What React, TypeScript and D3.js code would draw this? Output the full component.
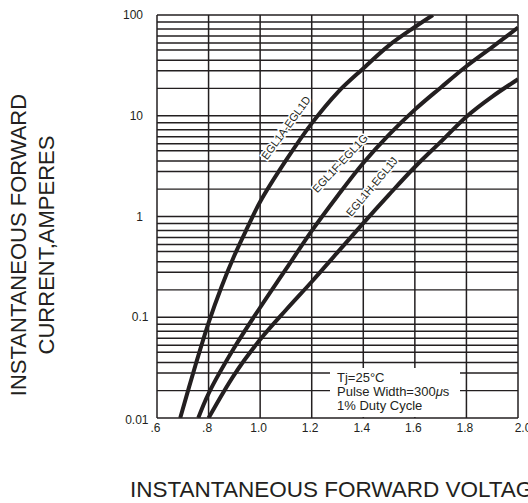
import { useMemo } from "react";
import * as d3 from "d3";

const WIDTH = 528;
const HEIGHT = 503;
const PLOT = { left: 157, right: 518, top: 15, bottom: 418 };
const INK = "#231f20";
const FONT = "'Liberation Sans', Arial, sans-serif";

// x axis (forward voltage)
const X_TICKS = [0.6, 0.8, 1.0, 1.2, 1.4, 1.6, 1.8, 2.0];
const X_LABELS = [".6", ".8", "1.0", "1.2", "1.4", "1.6", "1.8", "2.0"];

// y axis (log current): decades + the minor lines drawn inside every decade
const Y_DECADES = [0.01, 0.1, 1, 10, 100];
const Y_LABELS = ["0.01", "0.1", "1", "10", "100"];
const MINOR_STEPS = [1.87, 2.8, 3.55, 4.5, 5.27, 6.19, 7.26, 8.52];

// EGL1A-EGL1D
const VOLTS_AD = [0.69, 0.75, 0.8, 0.85, 0.9, 0.95, 1.0, 1.1, 1.2, 1.3, 1.4, 1.5, 1.6, 1.67];
const AMPS_AD = [0.01, 0.034, 0.088, 0.2, 0.41, 0.77, 1.4, 3.6, 8.4, 17, 29.5, 50, 76, 100];

// EGL1F-EGL1G
const VOLTS_FG = [0.76, 0.8, 0.9, 1.0, 1.1, 1.2, 1.3, 1.4, 1.5, 1.6, 1.7, 1.8, 1.9, 2.0];
const AMPS_FG = [0.01, 0.0175, 0.05, 0.125, 0.3, 0.72, 1.6, 3.4, 6.5, 11.5, 19, 31, 48, 75];

// EGL1H-EGL1J
const VOLTS_HJ = [0.8, 0.9, 1.0, 1.1, 1.2, 1.3, 1.4, 1.5, 1.6, 1.7, 1.8, 1.9, 2.0];
const AMPS_HJ = [0.01, 0.027, 0.06, 0.118, 0.225, 0.44, 0.86, 1.65, 3.1, 5.5, 9.8, 15.5, 23];

const SERIES = [
  { name: "EGL1A-EGL1D", volts: VOLTS_AD, amps: AMPS_AD },
  { name: "EGL1F-EGL1G", volts: VOLTS_FG, amps: AMPS_FG },
  { name: "EGL1H-EGL1J", volts: VOLTS_HJ, amps: AMPS_HJ },
];

// where each curve name sits, in chart units, and its slant
const CURVE_LABELS = [
  { text: "EGL1A-EGL1D", volt: 1.1, amp: 7.6, angle: -54 },
  { text: "EGL1F-EGL1G", volt: 1.31, amp: 3.37, angle: -47 },
  { text: "EGL1H-EGL1J", volt: 1.433, amp: 1.98, angle: -50 },
];

const NOTE_LINES = ["Tj=25°C", "Pulse Width=300μs", "1% Duty Cycle"];

type Pt = { v: number; i: number };

export default function App() {
  const xScale = useMemo(
    () => d3.scaleLinear().domain([0.6, 2.0]).range([PLOT.left, PLOT.right]),
    []
  );
  const yScale = useMemo(
    () => d3.scaleLog().domain([0.01, 100]).range([PLOT.bottom, PLOT.top]),
    []
  );

  const line = d3
    .line<Pt>()
    .x((d) => xScale(d.v))
    .y((d) => yScale(d.i))
    .curve(d3.curveCatmullRom);

  const minorLines = Y_DECADES.slice(0, -1).flatMap((dec) =>
    MINOR_STEPS.map((m) => dec * m)
  );

  return (
    <svg
      width={WIDTH}
      height={HEIGHT}
      style={{ position: "absolute", left: 0, top: 0, background: "#fff" }}
      fontFamily={FONT}
    >
      <defs>
        <clipPath id="plot-clip">
          <rect
            x={PLOT.left}
            y={PLOT.top}
            width={PLOT.right - PLOT.left}
            height={PLOT.bottom - PLOT.top}
          />
        </clipPath>
      </defs>

      {/* grid */}
      {minorLines.map((val, k) => (
        <line
          key={"m" + k}
          x1={PLOT.left}
          x2={PLOT.right}
          y1={yScale(val)}
          y2={yScale(val)}
          stroke={INK}
          strokeWidth={1.4}
        />
      ))}
      {Y_DECADES.map((val, k) => (
        <line
          key={"d" + k}
          x1={PLOT.left}
          x2={PLOT.right}
          y1={yScale(val)}
          y2={yScale(val)}
          stroke={INK}
          strokeWidth={1.5}
        />
      ))}
      {X_TICKS.map((val, k) => (
        <line
          key={"x" + k}
          x1={xScale(val)}
          x2={xScale(val)}
          y1={PLOT.top}
          y2={PLOT.bottom}
          stroke={INK}
          strokeWidth={1.5}
        />
      ))}

      {/* test conditions box */}
      <rect x={330} y={368} width={130} height={PLOT.bottom - 368 - 1} fill="#fff" />
      {NOTE_LINES.map((t, k) => {
        const parts = t.split("μ");
        return (
          <text key={k} x={337} y={382 + k * 13.8} fontSize={13} fill={INK}>
            {parts[0]}
            {parts.length > 1 && (
              <>
                <tspan fontStyle="italic">μ</tspan>
                {parts[1]}
              </>
            )}
          </text>
        );
      })}

      {/* curves */}
      <g clipPath="url(#plot-clip)">
        {SERIES.map((s) => (
          <path
            key={s.name}
            d={line(s.volts.map((v, k) => ({ v, i: s.amps[k] }))) ?? ""}
            fill="none"
            stroke={INK}
            strokeWidth={4}
          />
        ))}
      </g>

      {/* curve names */}
      {CURVE_LABELS.map((l) => (
        <text
          key={l.text}
          transform={`translate(${xScale(l.volt)},${yScale(l.amp)}) rotate(${l.angle})`}
          textAnchor="middle"
          dy="0.35em"
          fontSize={11}
          fill={INK}
          stroke="#fff"
          strokeWidth={3}
          paintOrder="stroke"
        >
          {l.text}
        </text>
      ))}

      {/* y tick labels (the two decimal ones sit a little further right) */}
      {Y_DECADES.map((val, k) => (
        <text
          key={"yl" + k}
          x={PLOT.left - 14 + (val < 1 ? 5.5 : 0)}
          y={yScale(val) + (k === 0 ? 1.5 : 0)}
          dy="0.35em"
          textAnchor="end"
          fontSize={12}
          fill={INK}
        >
          {Y_LABELS[k]}
        </text>
      ))}

      {/* x tick labels */}
      {X_TICKS.map((val, k) => (
        <text
          key={"xl" + k}
          x={xScale(val) + (k === X_TICKS.length - 1 ? 5 : -1.5)}
          y={PLOT.bottom + 14}
          textAnchor="middle"
          fontSize={12}
          fill={INK}
        >
          {X_LABELS[k]}
        </text>
      ))}

      {/* axis titles */}
      <text x={130} y={497} fontSize={22.5} fill={INK}>
        INSTANTANEOUS FORWARD VOLTAGE
      </text>
      <g transform="translate(26,245) rotate(-90)">
        <text textAnchor="middle" fontSize={22} fill={INK}>
          INSTANTANEOUS FORWARD
        </text>
        <text y={27.5} textAnchor="middle" fontSize={22} fill={INK}>
          CURRENT,AMPERES
        </text>
      </g>
    </svg>
  );
}
